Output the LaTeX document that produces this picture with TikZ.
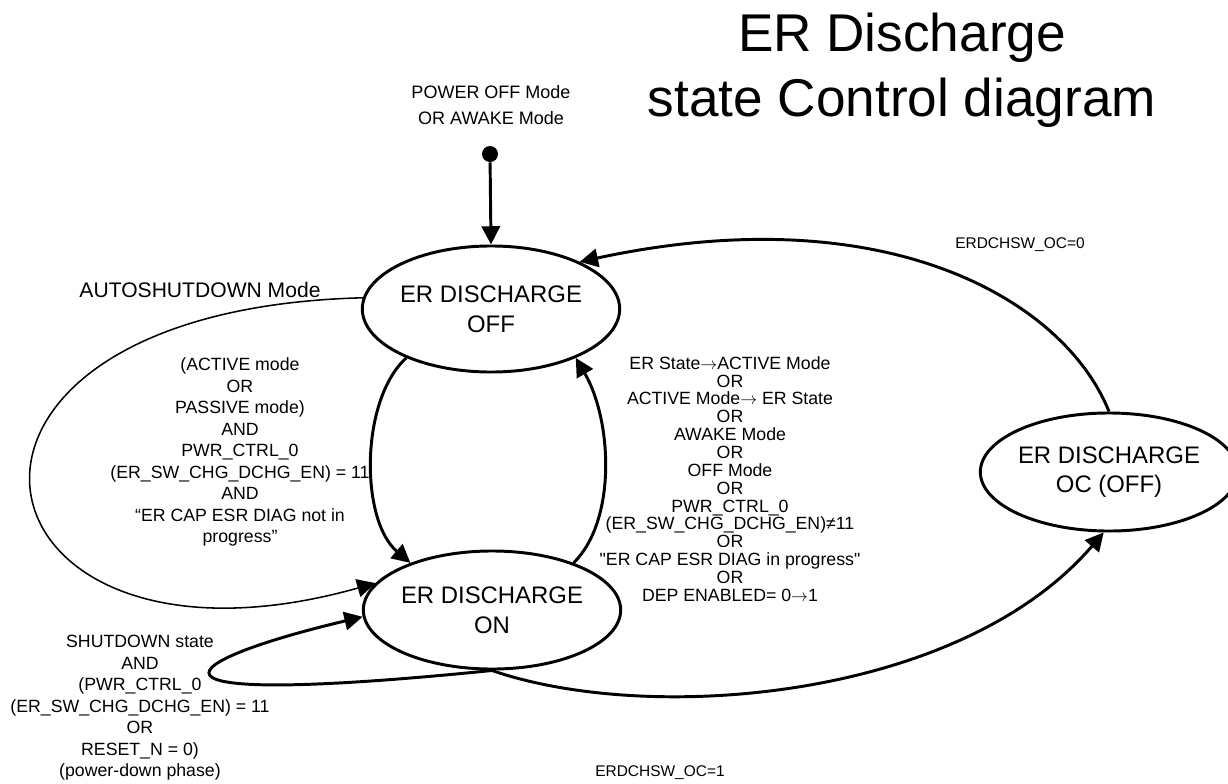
\documentclass[tikz,border=0pt]{standalone}
\usepackage{fontspec}
\setmainfont{Liberation Sans}
\newcommand{\goesto}{\ensuremath{\rightarrow}}
\usetikzlibrary{arrows.meta, positioning, shapes.geometric}

\begin{document}
\begin{tikzpicture}[
    x=0.025cm, y=-0.025cm,
    every node/.style={inner sep=0pt, align=center},
    state/.style={
        ellipse,
        draw,
        line width=2.1pt,
        minimum width=5.65cm,
        minimum height=2.95cm,
        font=\fontsize{17}{21}\selectfont
    },
    cond/.style={font=\fontsize{12.6}{15.3}\selectfont},
    tightcond/.style={font=\fontsize{12.6}{12.7}\selectfont},
    small/.style={font=\fontsize{11}{13}\selectfont},
    initdot/.style={circle, fill=black, minimum size=0.4cm},
    arrow/.style={line width=2.1pt, -{Triangle[length=13pt,width=13pt]}},
    thinarrow/.style={line width=1.1pt, -{Triangle[length=13pt,width=13pt]}}
]
\useasboundingbox (0,0) rectangle (1228,783);

\node[font=\fontsize{37.8}{46.2}\selectfont] (title) at (902,70) {ER Discharge\\state Control diagram};

\node[state, minimum height=3.15cm] (off) at (491,309) {ER DISCHARGE\\OFF};
\node[state, minimum width=5.7cm] (on) at (492,610) {ER DISCHARGE\\ON};
\node[state, minimum width=5.4cm] (oc) at (1109,472) {ER DISCHARGE\\OC (OFF)};

\node[initdot] (init) at (490,154) {};
\node[font=\fontsize{12.8}{18}\selectfont] (initlbl) at (491,105) {POWER OFF Mode\\OR AWAKE Mode};

\draw[arrow] (init) -- (off.north);
\draw[arrow] (oc.north) .. controls +(-45,-112) and +(306,-66) .. (off.28);
\draw[thinarrow] (off.175) .. controls (-120,310) and (-40,700) .. (on.167);
\draw[arrow] (off.210) .. controls (360,400) and (360,520) .. (on.150);
\draw[arrow] (on.30) .. controls (617,520) and (612,420) .. (off.330);
\draw[arrow] (on.south) .. controls (100,710) and (180,660) .. (on.183);
\draw[arrow] (on.south) .. controls (650,725) and (960,700) .. (oc.265);

\node[font=\fontsize{15}{18}\selectfont] (autolbl) at (200,290) {AUTOSHUTDOWN Mode};
\node[cond] (onlbl) at (240,452) {(ACTIVE mode\\OR\\PASSIVE mode)\\AND\\PWR\_CTRL\_0\\(ER\_SW\_CHG\_DCHG\_EN) = 11\\AND\\“ER CAP ESR DIAG not in\\progress”};
\node[tightcond] (offlbl) at (730,479) {ER State\goesto ACTIVE Mode\\OR\\ACTIVE Mode\goesto\ ER State\\OR\\AWAKE Mode\\OR\\OFF Mode\\OR\\PWR\_CTRL\_0\\(ER\_SW\_CHG\_DCHG\_EN)≠11\\OR\\\textquotedbl ER CAP ESR DIAG in progress\textquotedbl\\OR\\DEP ENABLED= 0\goesto 1};
\node[cond] (looplbl) at (140,708) {SHUTDOWN state\\AND\\(PWR\_CTRL\_0\\(ER\_SW\_CHG\_DCHG\_EN) = 11\\OR\\RESET\_N = 0)\\(power-down phase)};
\node[small] (oc0lbl) at (1020,245) {ERDCHSW\_OC=0};
\node[small] (oc1lbl) at (660,773) {ERDCHSW\_OC=1};

\end{tikzpicture}
\end{document}
